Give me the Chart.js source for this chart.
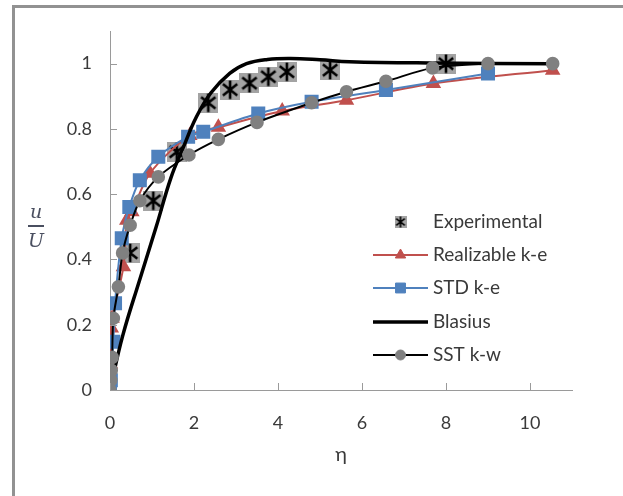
<!DOCTYPE html>
<html>
<head>
<meta charset="utf-8">
<script src="https://cdn.jsdelivr.net/npm/chart.js@4/dist/chart.umd.min.js"></script>
<style>
  html, body { margin: 0; padding: 0; background: #fff; }
  #wrap { position: relative; width: 623px; height: 496px; overflow: hidden; }
  #frame { position: absolute; left: 12px; top: 5px; width: 800px; height: 800px;
           border: 3px solid #929292; box-sizing: border-box; pointer-events: none; }
  #ylab { position: absolute; left: 24px; top: 200px; width: 24px; text-align: center;
          font-family: "DejaVu Serif", serif; font-style: italic; font-size: 19px; color: #4a4f60; }
  #ylab .num { display: block; line-height: 22px; }
  #ylab .bar { display: block; height: 2px; background: #4a4f60; margin: 3px 4px 2px 4px; }
  #ylab .den { display: block; line-height: 22px; }
</style>
</head>
<body>
<div id="wrap">
  <canvas id="c" width="623" height="496"></canvas>
  <div id="ylab"><span class="num">u</span><span class="bar"></span><span class="den">U</span></div>
  <div id="frame"></div>
</div>
<script>
// Velocity profiles u/U against the similarity variable eta
const etaExp = [0.48, 1.03, 1.59, 2.34, 2.86, 3.32, 3.77, 4.21, 5.24, 8.0];
const uExp   = [0.42, 0.58, 0.73, 0.88, 0.92, 0.94, 0.96, 0.975, 0.98, 1.0];

const etaRke = [0, 0.01, 0.03, 0.05, 0.32, 0.40, 0.52, 0.95, 1.90, 2.58, 4.10, 5.63, 7.70, 10.54];
const uRke   = [0, 0.08, 0.19, 0.22, 0.378, 0.52, 0.546, 0.664, 0.78, 0.805, 0.855, 0.888, 0.939, 0.98];

const etaStd = [0, 0.02, 0.08, 0.12, 0.28, 0.46, 0.71, 1.15, 1.86, 2.22, 3.53, 4.80, 6.57, 9.0];
const uStd   = [0, 0.03, 0.148, 0.266, 0.465, 0.561, 0.643, 0.715, 0.776, 0.791, 0.847, 0.883, 0.919, 0.97];

const etaBlasius = [0, 0.3, 0.7, 1.1, 1.45, 1.75, 2.05, 2.4, 2.85, 3.25, 3.75, 4.3, 5.0, 5.7, 7.6, 10.5];
const uBlasius   = [0, 0.165, 0.335, 0.50, 0.65, 0.745, 0.835, 0.91, 0.97, 1.0, 1.013, 1.016, 1.012, 1.006, 1.002, 1.0];

const etaSst = [0, 0.02, 0.03, 0.05, 0.08, 0.20, 0.30, 0.48, 0.71, 1.15, 1.88, 2.58, 3.50, 4.80, 5.63, 6.57, 7.68, 9.0, 10.54];
const uSst   = [0, 0.03, 0.06, 0.10, 0.22, 0.316, 0.42, 0.505, 0.58, 0.653, 0.72, 0.768, 0.82, 0.88, 0.914, 0.946, 0.987, 1.0, 1.0];

const seriesNames = ['Experimental', 'Realizable k-e', 'STD k-e', 'Blasius', 'SST k-w'];

const xy = (xs, ys) => xs.map((x, i) => ({ x: x, y: ys[i] }));

// Gray square marker with a black six-armed asterisk
function asteriskMarker(size, lw) {
  const cv = document.createElement('canvas');
  cv.width = size; cv.height = size;
  const g = cv.getContext('2d');
  g.fillStyle = '#a3a3a3';
  g.fillRect(0, 0, size, size);
  g.strokeStyle = '#000';
  g.lineWidth = lw;
  g.lineCap = 'butt';
  const c = size / 2, h = size * 0.46;
  const dx = h * 0.78, dy = h * 0.62;
  g.beginPath();
  g.moveTo(c, c - h); g.lineTo(c, c + h);
  g.moveTo(c - dx, c - dy); g.lineTo(c + dx, c + dy);
  g.moveTo(c + dx, c - dy); g.lineTo(c - dx, c + dy);
  g.stroke();
  return cv;
}
const expMarker = asteriskMarker(20, 2.6);
const expLegendMarker = asteriskMarker(12, 1.6);

const FONT = 'Lato, "Open Sans", sans-serif';
const TXT = '#3a3a3a';
const AXIS = '#9a9a9a';

// Inward tick marks on both axes
const innerTicks = {
  id: 'innerTicks',
  afterDatasetsDraw(chart) {
    const ctx = chart.ctx, xs = chart.scales.x, ys = chart.scales.y;
    ctx.save();
    ctx.strokeStyle = AXIS;
    ctx.lineWidth = 1;
    ctx.beginPath();
    xs.ticks.forEach(t => {
      const px = Math.round(xs.getPixelForValue(t.value)) + 0.5;
      ctx.moveTo(px, ys.bottom); ctx.lineTo(px, ys.bottom - 7);
    });
    ys.ticks.forEach(t => {
      const py = Math.round(ys.getPixelForValue(t.value)) + 0.5;
      ctx.moveTo(xs.left, py); ctx.lineTo(xs.left + 7, py);
    });
    ctx.stroke();
    ctx.restore();
  }
};

// Legend drawn inside the plot area, lower right
const insideLegend = {
  id: 'insideLegend',
  afterDraw(chart) {
    const ctx = chart.ctx;
    const x0 = 373, x1 = 428, tx = 433;
    const rows = [222, 255, 288, 322, 355];
    ctx.save();
    seriesNames.forEach((name, i) => {
      const ds = chart.data.datasets[i];
      const y = rows[i];
      const cx = (x0 + x1) / 2;
      if (ds.showLine) {
        ctx.strokeStyle = ds.borderColor;
        ctx.lineWidth = ds.borderWidth;
        ctx.beginPath(); ctx.moveTo(x0, y); ctx.lineTo(x1, y); ctx.stroke();
      }
      if (i === 0) {
        ctx.drawImage(expLegendMarker, cx - 6, y - 6);
      } else if (ds.pointRadius > 0) {
        ctx.fillStyle = ds.pointBackgroundColor;
        ctx.strokeStyle = ds.pointBorderColor;
        ctx.lineWidth = 1;
        Chart.helpers.drawPoint(ctx, {
          pointStyle: ds.pointStyle, radius: ds.legendRadius, rotation: 0, borderWidth: 1
        }, cx, y);
      }
      ctx.fillStyle = TXT;
      ctx.font = '19px ' + FONT;
      ctx.textBaseline = 'middle';
      ctx.textAlign = 'left';
      ctx.fillText(name, tx, y);
    });
    ctx.restore();
  }
};

const chart = new Chart(document.getElementById('c'), {
  type: 'scatter',
  data: {
    datasets: [
      {
        label: seriesNames[0], data: xy(etaExp, uExp), showLine: false,
        pointStyle: expMarker, pointRadius: 10, borderColor: '#000', order: 5
      },
      {
        label: seriesNames[1], data: xy(etaRke, uRke), showLine: true, tension: 0.3,
        borderColor: '#c0504d', borderWidth: 2, pointStyle: 'triangle', pointRadius: 7,
        legendRadius: 6, pointBackgroundColor: '#c0504d', pointBorderColor: '#c0504d', order: 4
      },
      {
        label: seriesNames[2], data: xy(etaStd, uStd), showLine: true, tension: 0.3,
        borderColor: '#4f81bd', borderWidth: 2, pointStyle: 'rect', pointRadius: 8.5,
        legendRadius: 7, pointBackgroundColor: '#4f81bd', pointBorderColor: '#4f81bd', order: 3
      },
      {
        label: seriesNames[3], data: xy(etaBlasius, uBlasius), showLine: true, tension: 0.4,
        borderColor: '#000', borderWidth: 3.5, pointRadius: 0, order: 2
      },
      {
        label: seriesNames[4], data: xy(etaSst, uSst), showLine: true, tension: 0.3,
        borderColor: '#000', borderWidth: 2, pointStyle: 'circle', pointRadius: 5.8,
        legendRadius: 5, pointBackgroundColor: '#808080', pointBorderColor: '#808080', order: 1
      }
    ]
  },
  options: {
    responsive: false,
    animation: false,
    events: [],
    layout: { padding: { top: 31, right: 51, left: 0, bottom: 0 } },
    plugins: { legend: { display: false }, tooltip: { enabled: false } },
    scales: {
      x: {
        type: 'linear', min: 0, max: 11,
        ticks: { stepSize: 2, includeBounds: false, padding: 22, color: TXT, font: { family: FONT, size: 18 } },
        grid: { display: true, drawOnChartArea: false, drawTicks: false },
        border: { display: true, color: AXIS, width: 1 },
        title: { display: true, text: 'η', color: TXT, font: { family: FONT, size: 20 }, padding: { top: 0, bottom: 29 } },
        afterFit(s) { s.height = 106; }
      },
      y: {
        type: 'linear', min: 0, max: 1.1,
        ticks: {
          stepSize: 0.2, includeBounds: false, padding: 18, color: TXT, font: { family: FONT, size: 18 },
          callback: v => String(Math.round(v * 10) / 10)
        },
        grid: { display: true, drawOnChartArea: false, drawTicks: false },
        border: { display: true, color: AXIS, width: 1 },
        afterFit(s) { s.width = 110; }
      }
    }
  },
  plugins: [innerTicks, insideLegend]
});
</script>
</body>
</html>
